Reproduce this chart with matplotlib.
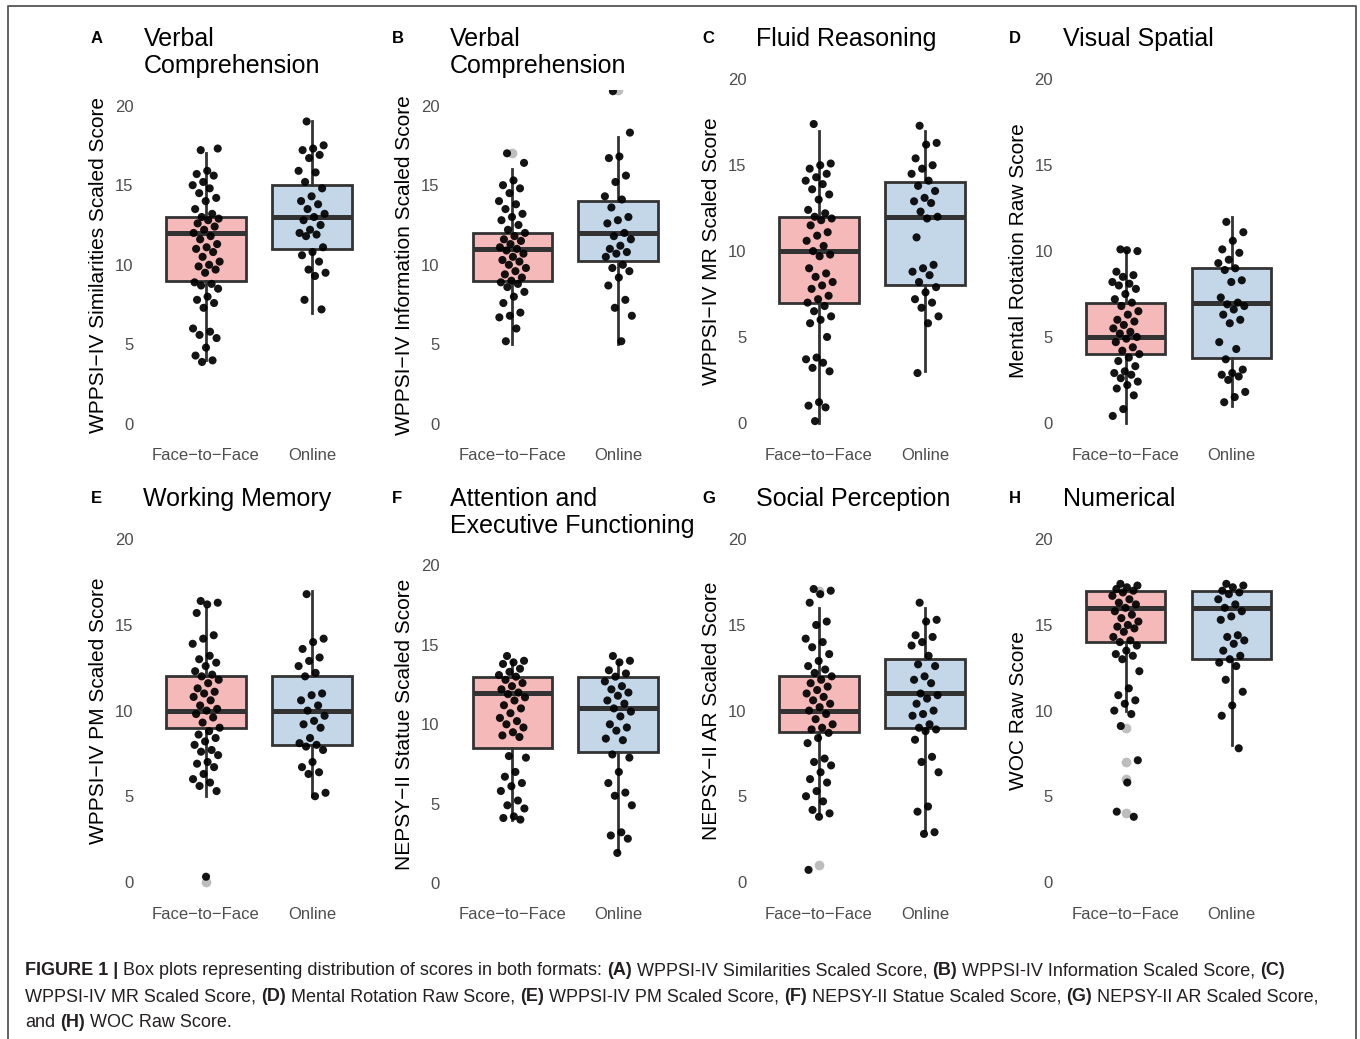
"""Box plots of test scores for face-to-face vs online administration (8 panels)."""

import numpy as np
import matplotlib
matplotlib.use("Agg")
import matplotlib.pyplot as plt
from matplotlib import font_manager
from matplotlib.lines import Line2D

plt.rcParams["font.family"] = ["Liberation Sans", "DejaVu Sans"]

W, H = 1360, 1039

groups = ["Face\u2212to\u2212Face", "Online"]

letters = ["A", "B", "C", "D", "E", "F", "G", "H"]
titles = [
    ["Verbal", "Comprehension"],
    ["Verbal", "Comprehension"],
    ["Fluid Reasoning"],
    ["Visual Spatial"],
    ["Working Memory"],
    ["Attention and", "Executive Functioning"],
    ["Social Perception"],
    ["Numerical"],
]
ylabels = [
    "WPPSI\u2212IV Similarities Scaled Score",
    "WPPSI\u2212IV Information Scaled Score",
    "WPPSI\u2212IV MR Scaled Score",
    "Mental Rotation Raw Score",
    "WPPSI\u2212IV PM Scaled Score",
    "NEPSY\u2212II Statue Scaled Score",
    "NEPSY\u2212II AR Scaled Score",
    "WOC Raw Score",
]

# box statistics per group: [lower whisker, Q1, median, Q3, upper whisker]
box_ftf = [
    [4, 9, 12, 13, 17],
    [5, 9, 11, 12, 16],
    [0, 7, 10, 12, 17],
    [0, 4, 5, 7, 10],
    [5, 9, 10, 12, 16],
    [4, 8.5, 12, 13, 14],
    [4, 8.75, 10, 12, 16],
    [10, 14, 16, 17, 17],
]
box_online = [
    [7, 11, 13, 15, 19],
    [5, 10.25, 12, 14, 18],
    [3, 8, 12, 14, 17],
    [1, 3.75, 7, 9, 12],
    [5, 8, 10, 12, 17],
    [2, 8.25, 11, 13, 14],
    [3, 9, 11, 13, 16],
    [8, 13, 16, 17, 17],
]
out_ftf = [[], [17], [], [], [0], [], [17, 1], [9, 7, 6, 4]]
out_online = [[], [21], [], [], [], [], [], []]

# jittered individual scores
a_ftf = [17.2, 17.3, 15.9, 15.7, 15.6, 15.2, 15.0, 14.8, 14.5, 14.2, 14.0, 13.5,
         13.2, 13.0, 12.9, 12.8, 12.6, 12.4, 12.2, 12.0, 11.8, 11.6, 11.3, 11.1,
         11.0, 10.8, 10.5, 10.2, 10.0, 9.9, 9.7, 9.5, 8.9, 8.8, 8.7, 8.5, 8.0,
         7.8, 7.6, 7.3, 6.0, 5.8, 5.6, 5.4, 4.8, 4.3, 4.0, 3.9]
a_online = [19.0, 17.5, 17.3, 17.2, 16.9, 16.7, 15.9, 15.8, 15.2, 14.8, 14.3,
            14.0, 13.8, 13.5, 13.2, 13.0, 12.8, 12.5, 12.2, 12.0, 11.9, 11.8,
            11.1, 10.8, 10.6, 10.2, 9.7, 9.5, 9.3, 7.8, 7.2]
b_ftf = [17.0, 16.4, 15.3, 15.0, 14.8, 14.5, 14.0, 13.8, 13.5, 13.2, 13.0, 12.8,
         12.5, 12.2, 12.0, 11.8, 11.6, 11.5, 11.3, 11.1, 11.0, 10.9, 10.7, 10.5,
         10.3, 10.2, 10.0, 9.8, 9.6, 9.4, 9.2, 9.0, 8.9, 8.8, 8.6, 8.3, 8.0, 7.6,
         7.0, 6.8, 6.7, 6.0, 5.2]
b_online = [20.9, 18.3, 16.8, 16.7, 15.6, 15.2, 14.3, 14.1, 13.6, 13.0, 12.8,
            12.6, 12.0, 11.8, 11.6, 11.2, 11.0, 10.8, 10.7, 10.5, 10.0, 9.8, 9.6,
            9.2, 8.7, 7.8, 7.3, 6.8, 5.2]
c_ftf = [17.4, 15.1, 15.0, 14.8, 14.5, 14.3, 14.1, 13.9, 13.6, 13.3, 13.0, 12.4,
         12.2, 12.0, 11.9, 11.8, 11.5, 11.1, 10.9, 10.6, 10.3, 10.0, 9.8, 9.7,
         9.0, 8.7, 8.5, 8.2, 8.0, 7.8, 7.4, 7.2, 7.0, 6.8, 6.5, 6.2, 6.0, 5.8,
         5.0, 3.8, 3.7, 3.5, 3.2, 3.0, 1.2, 1.0, 0.9, 0.1]
c_online = [17.3, 16.3, 16.2, 15.4, 15.0, 14.8, 14.5, 14.1, 13.8, 13.5, 13.1,
            12.9, 12.8, 12.3, 12.0, 11.9, 10.8, 9.2, 9.0, 8.8, 8.6, 8.2, 7.9, 7.6,
            7.2, 7.0, 6.7, 6.2, 5.8, 2.9]
d_ftf = [10.1, 10.0, 10.05, 8.8, 8.6, 8.5, 8.2, 8.1, 8.0, 7.8, 7.5, 7.2, 7.0,
         6.8, 6.5, 6.3, 6.0, 5.9, 5.7, 5.5, 5.3, 5.2, 5.0, 4.9, 4.7, 4.4, 4.2,
         4.0, 3.8, 3.6, 3.3, 3.0, 2.9, 2.8, 2.6, 2.4, 2.2, 2.0, 1.6, 0.8, 0.4]
d_online = [11.7, 11.1, 10.6, 10.1, 9.9, 9.5, 9.3, 9.0, 8.9, 8.3, 8.2, 7.3, 7.0,
            6.9, 6.8, 6.6, 6.3, 6.0, 5.8, 4.7, 4.3, 3.7, 3.1, 2.9, 2.8, 2.7, 2.5,
            1.8, 1.5, 1.2]
e_ftf = [16.4, 16.3, 16.2, 15.7, 14.4, 14.2, 13.9, 13.2, 13.0, 12.8, 12.6, 12.3,
         12.1, 12.0, 11.8, 11.6, 11.3, 11.1, 11.0, 10.8, 10.6, 10.3, 10.1, 10.0,
         9.8, 9.6, 9.3, 9.0, 8.8, 8.6, 8.4, 8.2, 8.0, 7.7, 7.6, 7.4, 7.0, 6.9,
         6.7, 6.3, 6.0, 5.8, 5.6, 5.3, 0.3]
e_online = [16.8, 14.2, 14.0, 13.6, 13.1, 12.9, 12.6, 12.2, 12.0, 11.0, 10.9,
            10.6, 10.3, 10.0, 9.7, 9.4, 9.2, 9.0, 8.4, 8.1, 8.0, 7.9, 7.7, 7.0,
            6.7, 6.4, 6.3, 5.2, 5.0]
f_ftf = [14.3, 14.0, 13.9, 13.8, 13.5, 13.3, 13.1, 13.0, 12.8, 12.6, 12.4, 12.2,
         12.0, 11.9, 11.7, 11.5, 11.2, 11.0, 10.7, 10.4, 10.2, 10.0, 9.8, 9.5,
         9.3, 9.2, 8.0, 7.9, 7.0, 6.7, 6.3, 6.1, 5.8, 5.2, 4.9, 4.7, 4.2, 4.1, 4.0]
f_online = [14.3, 14.0, 13.9, 13.4, 13.2, 13.0, 12.7, 12.4, 12.2, 12.0, 11.8,
            11.5, 11.3, 11.0, 10.8, 10.5, 10.0, 9.8, 9.6, 9.1, 9.0, 8.1, 7.9, 7.0,
            6.3, 5.7, 5.5, 4.9, 3.2, 3.0, 2.8, 1.9]
g_ftf = [17.1, 17.0, 16.8, 16.3, 15.2, 15.0, 14.2, 14.0, 13.7, 13.3, 12.9, 12.6,
         12.4, 12.2, 12.0, 11.8, 11.6, 11.4, 11.2, 11.0, 10.8, 10.6, 10.4, 10.2,
         10.0, 9.8, 9.5, 9.2, 9.0, 8.9, 8.7, 8.4, 8.1, 7.2, 7.0, 6.8, 6.4, 6.0,
         5.8, 5.3, 5.0, 4.7, 4.2, 4.0, 3.8, 0.7]
g_online = [16.3, 15.3, 15.2, 14.4, 14.3, 14.0, 13.8, 13.2, 12.7, 12.6, 12.0,
            11.8, 11.6, 11.0, 10.9, 10.7, 10.4, 10.0, 9.8, 9.7, 9.2, 9.0, 8.9, 8.8,
            8.3, 7.3, 7.0, 6.4, 4.4, 4.1, 2.9, 2.8]
h_ftf = [17.4, 17.3, 17.2, 17.1, 17.0, 16.9, 16.7, 16.5, 16.3, 16.2, 16.0, 15.8,
         15.6, 15.4, 15.2, 15.0, 14.9, 14.8, 14.6, 14.3, 14.1, 14.0, 13.8, 13.5,
         13.3, 13.2, 13.0, 12.3, 11.3, 10.9, 10.6, 10.4, 10.0, 9.8, 9.1, 7.1, 5.8,
         4.1, 3.8]
h_online = [17.4, 17.3, 17.2, 17.0, 16.9, 16.8, 16.5, 16.2, 16.0, 15.8, 15.5,
            15.3, 14.4, 14.3, 14.1, 13.9, 13.5, 13.2, 13.0, 12.8, 12.6, 11.8, 11.1,
            10.3, 9.7, 7.8]

points_ftf = [a_ftf, b_ftf, c_ftf, d_ftf, e_ftf, f_ftf, g_ftf, h_ftf]
points_online = [a_online, b_online, c_online, d_online, e_online, f_online,
                 g_online, h_online]

caption_lines = [
    [("FIGURE 1 |", True), ("Box plots representing distribution of scores in both formats:", False),
     ("(A)", True), ("WPPSI-IV Similarities Scaled Score,", False), ("(B)", True),
     ("WPPSI-IV Information Scaled Score,", False), ("(C)", True)],
    [("WPPSI-IV MR Scaled Score,", False), ("(D)", True), ("Mental Rotation Raw Score,", False),
     ("(E)", True), ("WPPSI-IV PM Scaled Score,", False), ("(F)", True),
     ("NEPSY-II Statue Scaled Score,", False), ("(G)", True), ("NEPSY-II AR Scaled Score,", False)],
    [("and", False), ("(H)", True), ("WOC Raw Score.", False)],
]

FILL = ["#F5B9BA", "#C3D7E9"]
EDGE = "#333333"

fig = plt.figure(figsize=(W / 100, H / 100), dpi=100)


def fx(px):
    return px / W


def fy(px):
    return 1 - px / H


col_left = [142.4, 448.7, 755.4, 1062.1]
letter_left = [91, 392, 702, 1009]
panel_w = 233.0
row_bottom = [440.0, 899.0]
row_top = [62.2, 522.2]
title_base = [46.0, 506.0]
letter_base = [43.0, 503.0]

for i in range(8):
    r, c = divmod(i, 4)
    n_lines = len(titles[i])
    top = row_top[r] + 27.4 * (n_lines - 1)
    bottom = row_bottom[r]
    left = col_left[c]
    ax = fig.add_axes([fx(left), fy(bottom), fx(panel_w), (bottom - top) / H])

    stats = []
    for b, outs in ((box_ftf[i], out_ftf[i]), (box_online[i], out_online[i])):
        stats.append(dict(whislo=b[0], q1=b[1], med=b[2], q3=b[3], whishi=b[4],
                          fliers=outs))
    parts = ax.bxp(stats, positions=[1, 2], widths=0.75, patch_artist=True,
                   showcaps=False,
                   boxprops=dict(edgecolor=EDGE, linewidth=2.0),
                   whiskerprops=dict(color=EDGE, linewidth=2.0),
                   medianprops=dict(color=EDGE, linewidth=3.6, solid_capstyle="butt"),
                   flierprops=dict(marker="o", markerfacecolor="#BDBDBD",
                                   markeredgecolor="none", markersize=7))
    for patch, col in zip(parts["boxes"], FILL):
        patch.set_facecolor(col)

    for pos, vals in ((1, points_ftf[i]), (2, points_online[i])):
        vals = np.asarray(vals)
        k = np.arange(len(vals))
        offs = ((k * 0.618034 + 0.31) % 1 * 2 - 1) * 0.13
        ax.scatter(pos + offs, vals, s=34, color="black", edgecolors="none",
                   alpha=0.92, zorder=3)

    ax.set_xlim(0.4, 2.6)
    ax.set_ylim(-1, 21)
    ax.set_xticks([1, 2])
    ax.set_xticklabels(groups)
    ax.set_yticks([0, 5, 10, 15, 20])
    ax.set_yticklabels(["0", "5", "10", "15", "20"])
    ax.tick_params(axis="both", length=0, labelsize=12, labelcolor="#4D4D4D")
    ax.tick_params(axis="y", pad=6.5)
    ax.tick_params(axis="x", pad=5.5)
    for sp in ax.spines.values():
        sp.set_visible(False)
    ax.set_ylabel(ylabels[i], fontsize=15, color="black", va="center")
    ax.yaxis.set_label_coords(-44 / panel_w, 0.5)

    for j, line in enumerate(titles[i]):
        fig.text(fx(left + 1), fy(title_base[r] + 27.0 * j), line, fontsize=18,
                 color="black", ha="left", va="baseline")
    fig.text(fx(letter_left[c]), fy(letter_base[r]), letters[i], fontsize=12,
             fontweight="bold", ha="left", va="baseline")

# caption with mixed bold / regular runs
names = {f.name for f in font_manager.fontManager.ttflist}
cap_family = "Liberation Sans Narrow" if "Liberation Sans Narrow" in names else "Liberation Sans"
renderer = fig.canvas.get_renderer()


def run_width(txt, bold, size):
    t = fig.text(0, 0, txt, fontsize=size, family=cap_family,
                 fontweight="bold" if bold else "normal")
    w = t.get_window_extent(renderer).width
    t.remove()
    return w


def line_width(runs, size):
    sp = run_width("x x", False, size) - run_width("xx", False, size)
    return sum(run_width(t, b, size) for t, b in runs) + sp * (len(runs) - 1), sp


base_size = 13.0
w0, _ = line_width(caption_lines[0], base_size)
cap_size = base_size * 1260.0 / w0
cap_base = [975.0, 1001.0, 1027.0]
for runs, yb in zip(caption_lines, cap_base):
    _, sp = line_width(runs, cap_size)
    x = 25.0
    for txt, bold in runs:
        fig.text(fx(x), fy(yb), txt, fontsize=cap_size, family=cap_family,
                 fontweight="bold" if bold else "normal", color="#231F20",
                 ha="left", va="baseline")
        x += run_width(txt, bold, cap_size) + sp

# thin frame around the figure (open at the bottom)
frame = Line2D([fx(8), fx(8), fx(1356), fx(1356)], [0, fy(6), fy(6), 0],
               transform=fig.transFigure, color="#555555", linewidth=1.3)
fig.add_artist(frame)

fig.savefig("out.png", dpi=100)
